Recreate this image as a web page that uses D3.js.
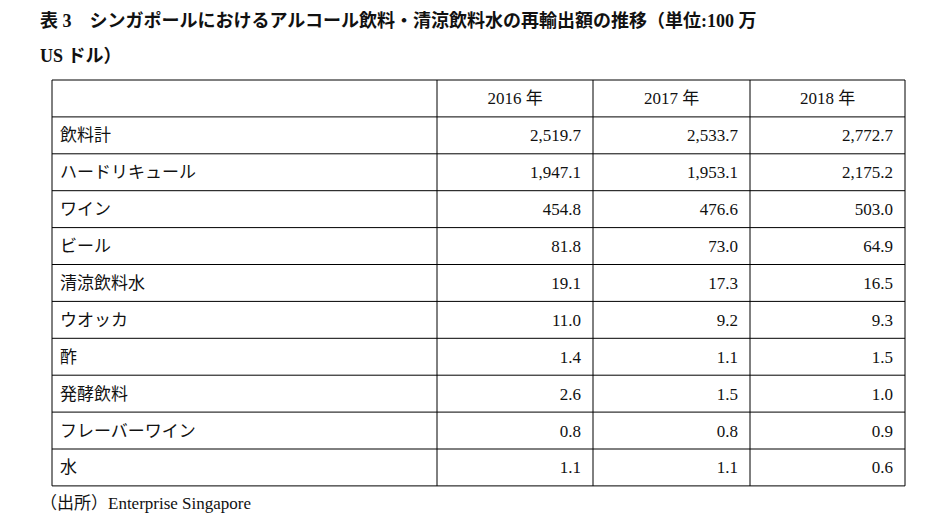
<!DOCTYPE html>
<html><head><meta charset="utf-8">
<script src="https://cdn.jsdelivr.net/npm/d3@7"></script>
<style>
body{margin:0;background:#fff;}
text{font-family:"Liberation Serif","DejaVu Serif","Noto Sans CJK JP",serif;fill:#111;}
</style></head>
<body><div id="chart"></div>
<script>
const titleLines = ["表 3　シンガポールにおけるアルコール飲料・清涼飲料水の再輸出額の推移（単位:100 万", "US ドル）"];
const years = ["2016 年", "2017 年", "2018 年"];
const categories = ["飲料計", "ハードリキュール", "ワイン", "ビール", "清涼飲料水", "ウオッカ", "酢", "発酵飲料", "フレーバーワイン", "水"];
const v2016 = [2519.7, 1947.1, 454.8, 81.8, 19.1, 11.0, 1.4, 2.6, 0.8, 1.1];
const v2017 = [2533.7, 1953.1, 476.6, 73.0, 17.3, 9.2, 1.1, 1.5, 0.8, 1.1];
const v2018 = [2772.7, 2175.2, 503.0, 64.9, 16.5, 9.3, 1.5, 1.0, 0.9, 0.6];
const source = "（出所）Enterprise Singapore";

const width = 936, height = 532;
const svg = d3.select('#chart').append('svg').attr('width', width).attr('height', height);

svg.selectAll('.title').data(titleLines).join('text')
    .attr('x', 40).attr('y', (d, i) => 27 + i * 35)
    .style('font-size', '18px').style('font-weight', 'bold')
    .text(d => d);

const colEdges = [52, 437, 593, 750, 905];
const tableTop = 80, rowH = 36.9;
const nRows = categories.length + 1;
const y = d3.scaleLinear().domain([0, nRows]).range([tableTop, tableTop + nRows * rowH]);

const g = svg.append('g');
// horizontal lines
g.selectAll('.h').data(d3.range(nRows + 1)).join('line')
    .attr('x1', colEdges[0]).attr('x2', colEdges[4])
    .attr('y1', d => y(d)).attr('y2', d => y(d))
    .attr('stroke', '#000').attr('stroke-width', 1);
// vertical lines
g.selectAll('.v').data(colEdges).join('line')
    .attr('x1', d => d).attr('x2', d => d)
    .attr('y1', y(0)).attr('y2', y(nRows))
    .attr('stroke', '#000').attr('stroke-width', 1);

const fmt = d3.format(',.1f');
// header
g.selectAll('.yr').data(years).join('text')
    .attr('x', (d, i) => (colEdges[i + 1] + colEdges[i + 2]) / 2)
    .attr('y', y(0.5) + 6).attr('text-anchor', 'middle')
    .style('font-size', '17px').text(d => d);

const series = [v2016, v2017, v2018];
categories.forEach((c, r) => {
    g.append('text').attr('x', colEdges[0] + 8).attr('y', y(r + 1.5) + 6)
        .style('font-size', '17px').text(c);
    series.forEach((s, j) => {
        g.append('text').attr('x', colEdges[j + 2] - 12).attr('y', y(r + 1.5) + 6)
            .attr('text-anchor', 'end').style('font-size', '17px').text(fmt(s[r]));
    });
});

svg.append('text').attr('x', 40).attr('y', 509).style('font-size', '17px').text(source);
</script></body></html>
